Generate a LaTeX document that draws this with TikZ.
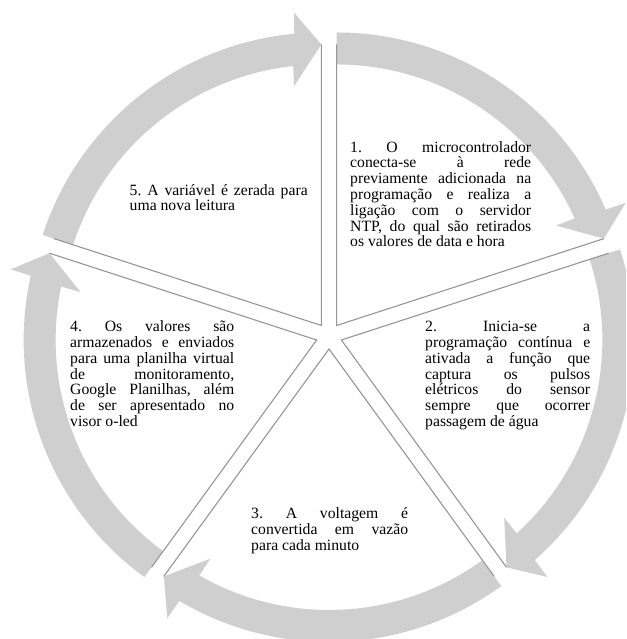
\documentclass[tikz,border=0pt]{standalone}
\usepackage{fontspec}
\setmainfont{Liberation Serif}
\definecolor{bandgray}{RGB}{207,207,207}
\definecolor{edgegray}{RGB}{150,150,150}
\newcommand\txtset{\fontsize{15.7}{15.8}\selectfont\frenchspacing
  \spaceskip=3.9pt plus 200pt minus 0.5pt\tolerance=10000
  \hyphenpenalty=10000\exhyphenpenalty=10000\parindent=0pt}
\begin{document}
\begin{tikzpicture}[x=1pt,y=1pt,
  band/.style={fill=bandgray,draw=none},
  edge/.style={draw=edgegray,line width=1.1pt,line join=miter},
  txt/.style={anchor=north west,inner sep=0pt,align=justify,font=\txtset}]
\useasboundingbox (0,0) rectangle (626,639);
\clip (0,0) rectangle (626,639);
% arrow bands
\foreach \s in {90,18,-54,-126,-198} {
  \pgfmathsetmacro\b{\s-36}
  \pgfmathsetmacro\e{\s-72}
  \begin{scope}[shift={(329,303)},shift={(\b:13)}]
    \fill[band] (\s:293) arc[start angle=\s,end angle=\e+5.3,radius=293]
      -- (\e+5:314) -- (\e:281) -- (\e+6.5:241) -- (\e+6.2:261)
      arc[start angle=\e+6.2,end angle=\s,radius=261] -- cycle;
  \end{scope}
}
% wedge edges
\foreach \s in {90,18,-54,-126,-198} {
  \pgfmathsetmacro\b{\s-36}
  \pgfmathsetmacro\e{\s-72}
  \begin{scope}[shift={(329,303)},shift={(\b:13)}]
    \draw[edge] (\s:281) -- (0,0) -- (\e:281);
  \end{scope}
}
% texts
\node[txt,text width=181pt] (t1) at (350,500) {\rule{0pt}{13pt}1. O microcontrolador\linebreak
conecta-se à rede\linebreak previamente adicionada na\linebreak programação e realiza a\linebreak
ligação com o servidor\linebreak NTP, do qual são retirados\linebreak os valores de data e hora};
\node[txt,text width=165pt] (t2) at (425,320.5) {\rule{0pt}{13pt}2. Inicia-se a\linebreak
programação contínua e\linebreak ativada a função que\linebreak captura os pulsos\linebreak
elétricos do sensor\linebreak sempre que ocorrer\linebreak passagem de água};
\node[txt,text width=157pt] (t3) at (251,133.5) {\rule{0pt}{13pt}3. A voltagem é\linebreak
convertida em vazão\linebreak para cada minuto};
\node[txt,text width=164pt] (t4) at (70,320.5) {\rule{0pt}{13pt}4. Os valores são\linebreak
armazenados e enviados\linebreak para uma planilha virtual\linebreak de monitoramento,\linebreak
Google Planilhas, além\linebreak de ser apresentado no\linebreak visor o-led};
\node[txt,text width=178pt] (t5) at (129.5,457) {\rule{0pt}{13pt}5. A variável é zerada para\linebreak
uma nova leitura};
\end{tikzpicture}
\end{document}
